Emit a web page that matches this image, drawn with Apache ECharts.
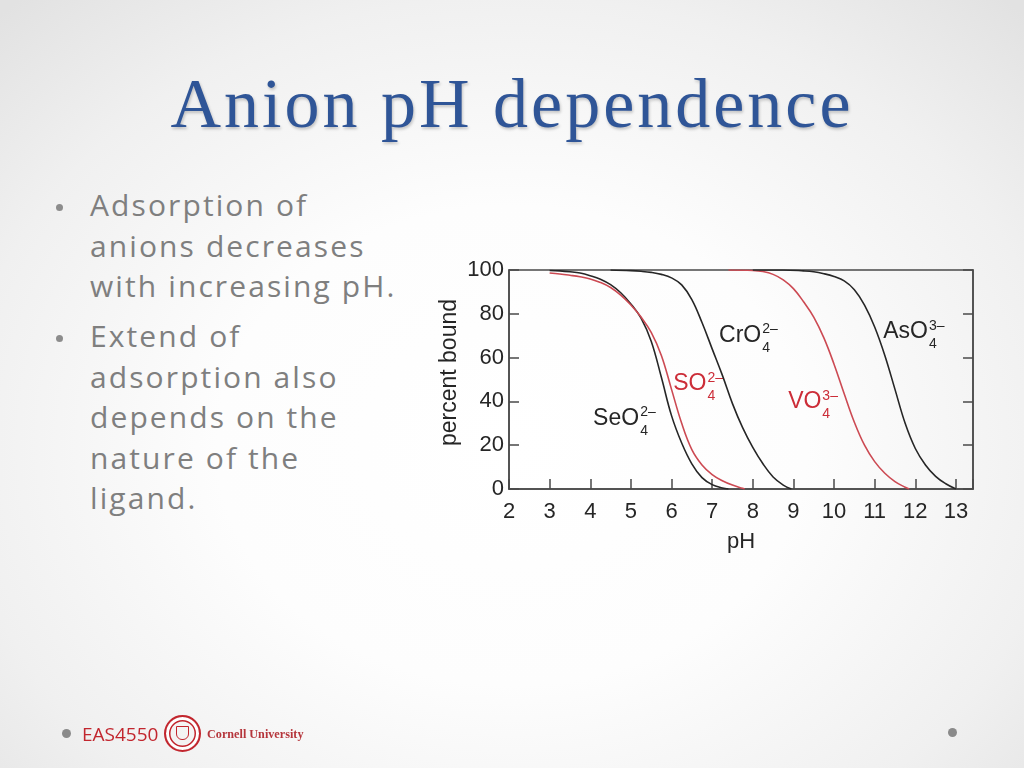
<!DOCTYPE html>
<html>
<head>
<meta charset="utf-8">
<title>Anion pH dependence</title>
<script src="https://cdn.jsdelivr.net/npm/echarts@6/dist/echarts.min.js"></script>
<style>
  html, body {
    margin: 0;
    padding: 0;
    width: 1024px;
    height: 768px;
    overflow: hidden;
  }
  body {
    position: relative;
    background: radial-gradient(ellipse 72% 78% at 50% 58%, #ffffff 0%, #fdfdfd 40%, #f0f0f0 75%, #e2e2e2 100%);
    font-family: "Open Sans", sans-serif;
  }
  #chart {
    position: absolute;
    left: 0;
    top: 0;
    width: 1024px;
    height: 768px;
  }
  .title {
    position: absolute;
    left: 0;
    top: 69px;
    width: 1024px;
    text-align: center;
    font-family: "Liberation Serif", serif;
    font-size: 70px;
    line-height: 70px;
    letter-spacing: 3px;
    color: #2f5597;
    text-shadow: 1px 2px 3px rgba(0, 0, 0, 0.22);
  }
  .bullets {
    position: absolute;
    left: 90px;
    top: 185px;
    font-size: 30px;
    line-height: 40.5px;
    letter-spacing: 2.1px;
    color: #7f7f7f;
  }
  .bullets .item { position: relative; }
  .bullets .item + .item { margin-top: 9.5px; }
  .bullets .item::before {
    content: "";
    position: absolute;
    left: -34px;
    top: 19px;
    width: 7px;
    height: 7px;
    border-radius: 50%;
    background: #8c8c8c;
  }
  .dot {
    position: absolute;
    width: 9px;
    height: 9px;
    border-radius: 50%;
    background: #8a8a8a;
  }
  .course {
    position: absolute;
    left: 82px;
    top: 722px;
    font-size: 19px;
    line-height: 24px;
    color: #c2262e;
  }
  .seal {
    position: absolute;
    left: 164px;
    top: 715px;
    width: 33px;
    height: 33px;
    border-radius: 50%;
    border: 2px solid #c2262e;
    box-shadow: inset 0 0 0 3px #fff, inset 0 0 0 4.5px #c2262e;
  }
  .seal::after {
    content: "";
    position: absolute;
    left: 10px;
    top: 9px;
    width: 13px;
    height: 14px;
    border: 1.5px solid #c2262e;
    border-radius: 0 0 6px 6px;
    box-sizing: border-box;
  }
  .univ {
    position: absolute;
    left: 207px;
    top: 726px;
    font-family: "Liberation Serif", serif;
    font-weight: bold;
    font-size: 12.2px;
    line-height: 16px;
    color: #b5353b;
  }
</style>
</head>
<body>
<div class="title">Anion pH dependence</div>
<div class="bullets">
  <div class="item">Adsorption of<br>anions decreases<br>with increasing pH.</div>
  <div class="item">Extend of<br>adsorption also<br>depends on the<br>nature of the<br>ligand.</div>
</div>
<div id="chart"></div>
<div class="dot" style="left:62px;top:729px;"></div>
<div class="course">EAS4550</div>
<div class="seal"></div>
<div class="univ">Cornell University</div>
<div class="dot" style="left:948px;top:728px;"></div>

<script>
  // axis ticks
  const phTicks = [2, 3, 4, 5, 6, 7, 8, 9, 10, 11, 12, 13];
  const pctTicks = [0, 20, 40, 60, 80, 100];
  const phMax = 13.42;

  // [pH, percent bound]
  const seO4 = [
    [3.0, 99.8], [3.25, 99.6], [3.5, 99.2], [3.75, 98.6], [4.0, 97.4], [4.25, 95.8],
    [4.5, 93.3], [4.75, 89.6], [5.0, 84.5], [5.25, 78], [5.5, 67.5], [5.75, 51],
    [6.0, 33.5], [6.25, 21], [6.5, 11.5], [6.75, 5.2], [7.0, 2.0], [7.25, 0.5], [7.4, 0]
  ];
  const sO4 = [
    [3.0, 98.6], [3.25, 98.2], [3.5, 97.6], [3.75, 96.9], [4.0, 95.9], [4.25, 94.3],
    [4.5, 92.0], [4.75, 88.5], [5.0, 84], [5.25, 78.5], [5.5, 71.5], [5.75, 61],
    [6.0, 45.5], [6.25, 30], [6.5, 18], [6.75, 11], [7.0, 6.6], [7.25, 3.8],
    [7.5, 1.8], [7.75, 0.3], [7.8, 0]
  ];
  const crO4 = [
    [4.5, 100], [5.0, 99.7], [5.25, 99.4], [5.5, 98.9], [5.75, 98.0], [6.0, 96.4],
    [6.25, 93.2], [6.5, 86.5], [6.75, 76], [7.0, 64], [7.25, 52], [7.5, 39],
    [7.75, 28], [8.0, 19], [8.25, 11.5], [8.5, 5.5], [8.75, 1.8], [8.95, 0]
  ];
  const vO4 = [
    [7.4, 100], [8.0, 99.8], [8.25, 99.3], [8.5, 98], [8.75, 95.5], [9.0, 91.5],
    [9.25, 85.5], [9.5, 78.5], [9.75, 69], [10.0, 57], [10.25, 43.5], [10.5, 30.5],
    [10.75, 20], [11.0, 12.5], [11.25, 7.2], [11.5, 3.4], [11.75, 0.8], [11.85, 0]
  ];
  const asO4 = [
    [8.0, 100], [8.75, 100], [9.25, 99.6], [9.5, 99.2], [9.75, 98.3], [10.0, 97],
    [10.25, 95], [10.5, 91], [10.75, 84], [11.0, 74], [11.25, 61], [11.5, 45.5],
    [11.75, 30], [12.0, 18.5], [12.25, 11], [12.5, 5.8], [12.75, 2.4], [13.0, 0]
  ];

  const INK = '#262626';
  const RED = '#cc4a53';
  const RED_TXT = '#cc2d38';
  const FRAME = '#4a4a4a';
  const FONT = '"Liberation Sans", Arial, sans-serif';

  function curve(name, data, color) {
    return {
      name: name,
      type: 'line',
      data: data,
      smooth: 0.4,
      symbol: 'none',
      silent: true,
      lineStyle: { color: color, width: 1.6 }
    };
  }

  const myChart = echarts.init(document.getElementById('chart'));

  const option = {
    animation: false,
    grid: {
      left: 509,
      top: 270,
      width: 464,
      height: 219,
      show: true,
      borderColor: FRAME,
      borderWidth: 1.5,
      backgroundColor: 'transparent'
    },
    xAxis: {
      type: 'value',
      min: phTicks[0],
      max: phMax,
      interval: phTicks[1] - phTicks[0],
      name: 'pH',
      nameLocation: 'middle',
      nameGap: 42,
      nameTextStyle: { color: INK, fontSize: 22, fontFamily: FONT },
      axisLine: { show: true, lineStyle: { color: FRAME, width: 1.5 } },
      axisTick: { show: true, inside: true, length: 10, lineStyle: { color: FRAME, width: 1.5 } },
      axisLabel: {
        color: INK,
        fontSize: 22,
        fontFamily: FONT,
        margin: 12,
        formatter: function (v) {
          return phTicks.indexOf(v) >= 0 ? String(v) : '';
        }
      },
      splitLine: { show: false }
    },
    yAxis: [
      {
        type: 'value',
        min: pctTicks[0],
        max: pctTicks[pctTicks.length - 1],
        interval: pctTicks[1] - pctTicks[0],
        name: 'percent bound',
        nameLocation: 'middle',
        nameGap: 48,
        nameRotate: 90,
        nameTextStyle: { color: INK, fontSize: 23, fontFamily: FONT, padding: [0, 0, 0, 14] },
        axisLine: { show: true, lineStyle: { color: FRAME, width: 1.5 } },
        axisTick: { show: true, inside: true, length: 10, lineStyle: { color: FRAME, width: 1.5 } },
        axisLabel: { color: INK, fontSize: 22, fontFamily: FONT, margin: 5 },
        splitLine: { show: false }
      },
      {
        type: 'value',
        position: 'right',
        min: pctTicks[0],
        max: pctTicks[pctTicks.length - 1],
        interval: pctTicks[1] - pctTicks[0],
        axisLine: { show: true, lineStyle: { color: FRAME, width: 1.5 } },
        axisTick: { show: true, inside: true, length: 10, lineStyle: { color: FRAME, width: 1.5 } },
        axisLabel: { show: false },
        splitLine: { show: false }
      }
    ],
    series: [
      curve('SeO4', seO4, INK),
      curve('SO4', sO4, RED),
      curve('CrO4', crO4, INK),
      curve('VO4', vO4, RED),
      curve('AsO4', asO4, INK)
    ]
  };
  myChart.setOption(option);

  // ion labels, anchored in data space (left edge, vertical middle)
  const ionLabels = [
    { base: 'SeO', sub: '4', sup: '2–', at: [4.07, 32.2], color: INK },
    { base: 'SO', sub: '4', sup: '2–', at: [6.04, 48.0], color: RED_TXT },
    { base: 'CrO', sub: '4', sup: '2–', at: [7.17, 70.1], color: INK },
    { base: 'VO', sub: '4', sup: '3–', at: [8.87, 39.7], color: RED_TXT },
    { base: 'AsO', sub: '4', sup: '3–', at: [11.21, 71.7], color: INK }
  ];

  const measure = document.createElement('canvas').getContext('2d');
  const baseFont = '23px ' + FONT;
  const smallFont = '14px ' + FONT;
  measure.font = baseFont;

  const graphics = [];
  ionLabels.forEach(function (l) {
    const p = myChart.convertToPixel({ gridIndex: 0 }, l.at);
    const w = measure.measureText(l.base).width;
    graphics.push({
      type: 'text', x: p[0], y: p[1], silent: true,
      style: { text: l.base, font: baseFont, fill: l.color, align: 'left', verticalAlign: 'middle' }
    });
    graphics.push({
      type: 'text', x: p[0] + w + 1, y: p[1] - 6, silent: true,
      style: { text: l.sup, font: smallFont, fill: l.color, align: 'left', verticalAlign: 'middle' }
    });
    graphics.push({
      type: 'text', x: p[0] + w + 1, y: p[1] + 12.5, silent: true,
      style: { text: l.sub, font: smallFont, fill: l.color, align: 'left', verticalAlign: 'middle' }
    });
  });
  myChart.setOption({ graphic: graphics });
</script>
</body>
</html>
